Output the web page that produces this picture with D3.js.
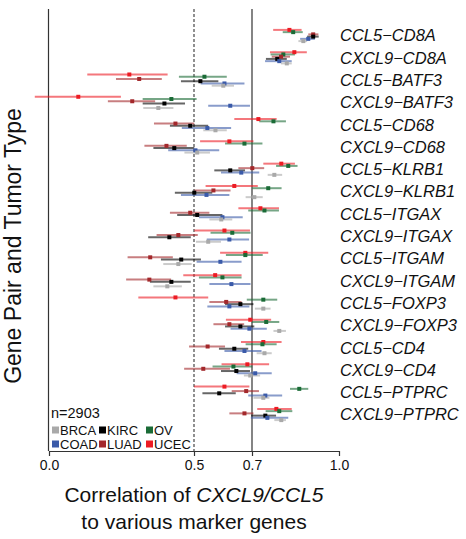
<!DOCTYPE html>
<html>
<head>
<meta charset="utf-8">
<script src="https://cdn.jsdelivr.net/npm/d3@7"></script>
<style>
  body { margin: 0; background: #fff; }
  svg { font-family: "Liberation Sans", Arial, sans-serif; }
</style>
</head>
<body>
<svg></svg>
<script>
// gene pairs, top to bottom
const genePairs = [
  "CCL5\u2212CD8A", "CXCL9\u2212CD8A", "CCL5\u2212BATF3", "CXCL9\u2212BATF3",
  "CCL5\u2212CD68", "CXCL9\u2212CD68", "CCL5\u2212KLRB1", "CXCL9\u2212KLRB1",
  "CCL5\u2212ITGAX", "CXCL9\u2212ITGAX", "CCL5\u2212ITGAM", "CXCL9\u2212ITGAM",
  "CCL5\u2212FOXP3", "CXCL9\u2212FOXP3", "CCL5\u2212CD4", "CXCL9\u2212CD4",
  "CCL5\u2212PTPRC", "CXCL9\u2212PTPRC"
];

// dodge order inside a gene pair (top to bottom)
const tumorOrder = ["UCEC", "OV", "LUAD", "KIRC", "COAD", "BRCA"];
// legend order
const legendTypes = ["BRCA", "KIRC", "OV", "COAD", "LUAD", "UCEC"];
const tumorColors = ["#a9a9a9", "#000000", "#1a6b36", "#3a5aa9", "#a3282b", "#ec1c24"];

const xTicks = [0.0, 0.5, 0.7, 1.0];

// [lower, estimate, upper] per gene pair
const UCEC = [
  [0.773, 0.829, 0.871], [0.762, 0.846, 0.889], [0.132, 0.277, 0.409], [-0.049, 0.101, 0.248],
  [0.639, 0.722, 0.785], [0.521, 0.622, 0.705], [0.739, 0.801, 0.848], [0.540, 0.639, 0.720],
  [0.653, 0.729, 0.793], [0.501, 0.605, 0.693], [0.590, 0.677, 0.756], [0.463, 0.573, 0.664],
  [0.308, 0.436, 0.549], [0.610, 0.694, 0.766], [0.662, 0.739, 0.802], [0.595, 0.684, 0.759],
  [0.500, 0.605, 0.691], [0.718, 0.784, 0.837]
];
const OV = [
  [0.806, 0.842, 0.875], [0.764, 0.808, 0.848], [0.448, 0.536, 0.613], [0.323, 0.422, 0.509],
  [0.725, 0.774, 0.817], [0.607, 0.674, 0.736], [0.783, 0.825, 0.857], [0.701, 0.756, 0.802],
  [0.687, 0.743, 0.793], [0.557, 0.632, 0.695], [0.610, 0.677, 0.737], [0.517, 0.598, 0.664],
  [0.682, 0.739, 0.787], [0.699, 0.749, 0.794], [0.678, 0.736, 0.785], [0.564, 0.636, 0.701],
  [0.831, 0.863, 0.894], [0.747, 0.794, 0.839]
];
const LUAD = [
  [0.894, 0.911, 0.929], [0.768, 0.800, 0.831], [0.231, 0.311, 0.389], [0.203, 0.287, 0.366],
  [0.362, 0.436, 0.501], [0.329, 0.405, 0.475], [0.653, 0.701, 0.742], [0.501, 0.567, 0.626],
  [0.417, 0.487, 0.553], [0.371, 0.446, 0.513], [0.271, 0.349, 0.427], [0.266, 0.346, 0.421],
  [0.553, 0.611, 0.664], [0.567, 0.622, 0.673], [0.483, 0.547, 0.607], [0.466, 0.532, 0.624],
  [0.630, 0.680, 0.724], [0.622, 0.674, 0.705]
];
const KIRC = [
  [0.890, 0.911, 0.930], [0.748, 0.787, 0.820], [0.455, 0.522, 0.584], [0.323, 0.398, 0.469],
  [0.417, 0.487, 0.549], [0.360, 0.432, 0.501], [0.570, 0.625, 0.676], [0.434, 0.501, 0.563],
  [0.442, 0.511, 0.598], [0.342, 0.415, 0.489], [0.386, 0.456, 0.524], [0.348, 0.422, 0.489],
  [0.607, 0.660, 0.705], [0.607, 0.660, 0.708], [0.586, 0.639, 0.687], [0.593, 0.646, 0.693],
  [0.529, 0.587, 0.644], [0.697, 0.746, 0.783]
];
const COAD = [
  [0.866, 0.894, 0.917], [0.745, 0.794, 0.837], [0.523, 0.605, 0.674], [0.549, 0.625, 0.693],
  [0.458, 0.546, 0.628], [0.411, 0.505, 0.587], [0.593, 0.663, 0.725], [0.455, 0.543, 0.622],
  [0.517, 0.598, 0.668], [0.544, 0.622, 0.690], [0.509, 0.591, 0.664], [0.553, 0.629, 0.695],
  [0.546, 0.622, 0.691], [0.626, 0.691, 0.751], [0.605, 0.674, 0.733], [0.647, 0.711, 0.768],
  [0.687, 0.746, 0.804], [0.696, 0.753, 0.825]
];
const BRCA = [
  [0.860, 0.877, 0.890], [0.800, 0.820, 0.837], [0.561, 0.601, 0.638], [0.325, 0.377, 0.429],
  [0.532, 0.574, 0.613], [0.467, 0.511, 0.555], [0.754, 0.777, 0.804], [0.678, 0.708, 0.737],
  [0.553, 0.594, 0.632], [0.507, 0.549, 0.593], [0.394, 0.446, 0.492], [0.360, 0.408, 0.458],
  [0.710, 0.739, 0.764], [0.774, 0.794, 0.817], [0.716, 0.743, 0.768], [0.672, 0.694, 0.728],
  [0.705, 0.739, 0.760], [0.777, 0.801, 0.817]
];

const sampleSize = "n=2903";

const seriesByType = { UCEC, OV, LUAD, KIRC, COAD, BRCA };

const width = 466, height = 539;
const plot = { left: 49, right: 339, top: 9, bottom: 451 };

const color = d3.scaleOrdinal().domain(legendTypes).range(tumorColors);

const x = d3.scaleLinear().domain([0, 1]).range([plot.left, plot.right]);
const y = d3.scalePoint().domain(genePairs).range([35.5, 414.5]);
const dodge = d3.scalePoint().domain(tumorOrder).range([-5.6, 5.6]);

// flatten into rows for drawing
const rows = [];
tumorOrder.forEach(t => {
  seriesByType[t].forEach((v, i) => {
    rows.push({ pair: genePairs[i], type: t, lo: v[0], est: v[1], hi: v[2] });
  });
});

const svg = d3.select("svg")
    .attr("width", width)
    .attr("height", height);

// reference lines
svg.append("line")
    .attr("x1", x(0.5)).attr("x2", x(0.5))
    .attr("y1", plot.top).attr("y2", plot.bottom)
    .attr("stroke", "#555")
    .attr("stroke-width", 1.3)
    .attr("stroke-dasharray", "3,2");
svg.append("line")
    .attr("x1", x(0.7)).attr("x2", x(0.7))
    .attr("y1", plot.top).attr("y2", plot.bottom)
    .attr("stroke", "#333")
    .attr("stroke-width", 1.2);

// left axis line
svg.append("line")
    .attr("x1", plot.left - 0.5).attr("x2", plot.left - 0.5)
    .attr("y1", plot.top).attr("y2", plot.bottom)
    .attr("stroke", "#333")
    .attr("stroke-width", 1.2);

// error bars
const yPos = d => y(d.pair) + dodge(d.type);

svg.append("g")
  .selectAll("line")
  .data(rows)
  .join("line")
    .attr("x1", d => x(d.lo))
    .attr("x2", d => x(d.hi))
    .attr("y1", yPos)
    .attr("y2", yPos)
    .attr("stroke", d => color(d.type))
    .attr("stroke-opacity", 0.6)
    .attr("stroke-width", 2);

// point estimates
svg.append("g")
  .selectAll("rect")
  .data(rows)
  .join("rect")
    .attr("x", d => x(d.est) - 2)
    .attr("y", d => yPos(d) - 2)
    .attr("width", 4)
    .attr("height", 4)
    .attr("fill", d => color(d.type));

// x axis
const xAxis = svg.append("g")
    .attr("transform", "translate(0," + plot.bottom + ")")
    .call(d3.axisBottom(x).tickValues(xTicks).tickFormat(d3.format(".1f")).tickSize(5).tickSizeOuter(0));
xAxis.select(".domain").attr("stroke", "#333").attr("stroke-width", 1.2);
xAxis.selectAll(".tick line").attr("stroke", "#333").attr("stroke-width", 1.2);
xAxis.selectAll(".tick text")
    .attr("font-size", 14)
    .attr("font-family", "Liberation Sans, Arial, sans-serif")
    .attr("fill", "#111")
    .attr("dy", "0.75em");

// gene pair labels
svg.append("g")
  .selectAll("text")
  .data(genePairs)
  .join("text")
    .attr("x", 340)
    .attr("y", d => y(d))
    .attr("dy", "0.36em")
    .attr("font-size", 16.5)
    .attr("font-style", "italic")
    .attr("fill", "#111")
    .text(d => d);

// axis titles
const xTitle = svg.append("text")
    .attr("x", x(0.5))
    .attr("y", 502)
    .attr("text-anchor", "middle")
    .attr("font-size", 21)
    .attr("fill", "#111");
xTitle.append("tspan").text("Correlation of ");
xTitle.append("tspan").attr("font-style", "italic").text("CXCL9/CCL5");
svg.append("text")
    .attr("x", x(0.5))
    .attr("y", 529)
    .attr("text-anchor", "middle")
    .attr("font-size", 21)
    .attr("fill", "#111")
    .text("to various marker genes");

svg.append("text")
    .attr("transform", "translate(21," + 246 + ") rotate(-90)")
    .attr("text-anchor", "middle")
    .attr("font-size", 23)
    .attr("fill", "#111")
    .text("Gene Pair and Tumor Type");

// legend
svg.append("text")
    .attr("x", 51)
    .attr("y", 418)
    .attr("font-size", 14.5)
    .attr("fill", "#111")
    .text(sampleSize);

const legend = svg.append("g")
    .selectAll("g")
    .data(legendTypes)
    .join("g")
    .attr("transform", (d, i) => "translate(" + (52 + (i % 3) * 47) + "," + (430 + Math.floor(i / 3) * 14) + ")");
legend.append("rect")
    .attr("x", 0).attr("y", -3.5)
    .attr("width", 7).attr("height", 7)
    .attr("fill", d => color(d));
legend.append("text")
    .attr("x", 8)
    .attr("dy", "0.36em")
    .attr("font-size", 13)
    .attr("fill", "#111")
    .text(d => d);
</script>
</body>
</html>
